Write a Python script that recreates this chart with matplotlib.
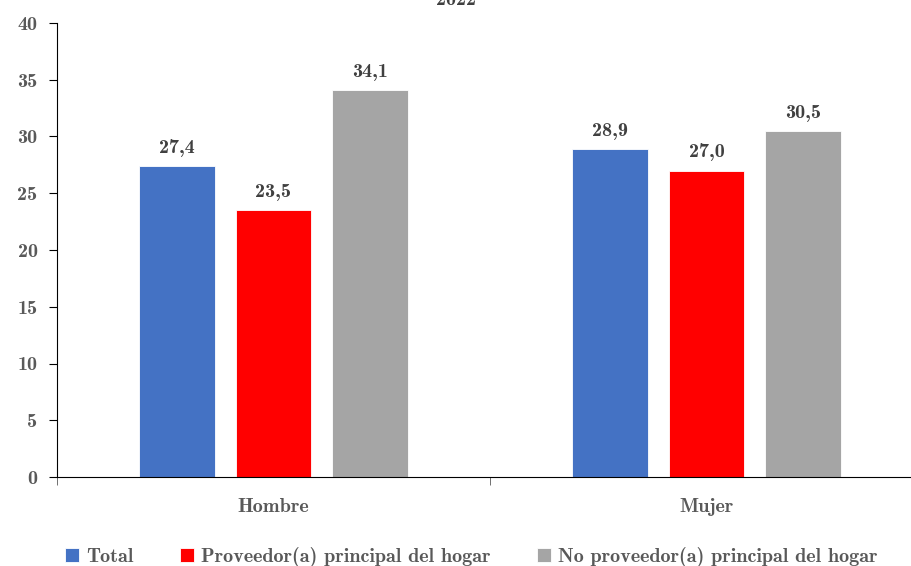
import matplotlib.pyplot as plt
import numpy as np

# datos
categorias = ['Hombre', 'Mujer']
series = ['Total', 'Proveedor(a) principal del hogar', 'No proveedor(a) principal del hogar']
total = [27.4, 28.9]
proveedor = [23.5, 27.0]
no_proveedor = [34.1, 30.5]
colores = ['#4472C4', '#FF0000', '#A5A5A5']

plt.rcParams['font.family'] = ['cmb10', 'DejaVu Serif']
plt.rcParams['axes.unicode_minus'] = False
fs = 14.5

fig = plt.figure(figsize=(9.12, 5.66), dpi=100)
ax = fig.add_axes([57 / 912, 89 / 566, 866 / 912, 454 / 566])

x = np.arange(len(categorias))
ancho = 0.175
desp = 0.222
valores = [total, proveedor, no_proveedor]
for i, (nombre, vals, col) in enumerate(zip(series, valores, colores)):
    pos = x + (i - 1) * desp
    ax.bar(pos, vals, ancho, color=col, edgecolor='white', linewidth=0.6, label=nombre)
    for px, v in zip(pos, vals):
        ax.text(px, v + 0.8, f'{v:.1f}'.replace('.', ','), ha='center', va='bottom',
                fontsize=fs, color='#404040')

ax.set_xlim(-0.5, 1.5)
ax.set_ylim(0, 40)
ax.set_yticks(range(0, 41, 5))
ax.set_xticks(x)
ax.set_xticklabels(categorias)
ax.set_xticks([-0.5, 0.5, 1.5], minor=True)
ax.tick_params(axis='x', which='major', length=0, pad=15, labelsize=fs, labelcolor='#595959')
ax.tick_params(axis='x', which='minor', length=6, color='#595959')
ax.tick_params(axis='y', length=6, labelsize=fs, labelcolor='#595959', pad=8)
ax.spines['top'].set_visible(False)
ax.spines['right'].set_visible(False)

fig.text(0.5, 1.0, '2022', ha='center', va='center', fontsize=fs, color='#404040')

ax.legend(loc='center', bbox_to_anchor=(471 / 912, 1 - 557 / 566), bbox_transform=fig.transFigure,
          ncol=3, frameon=False, fontsize=fs, labelcolor='#595959', handlelength=0.7,
          handleheight=0.7, handletextpad=0.35, columnspacing=2.3)

fig.savefig('out.png', dpi=100)
